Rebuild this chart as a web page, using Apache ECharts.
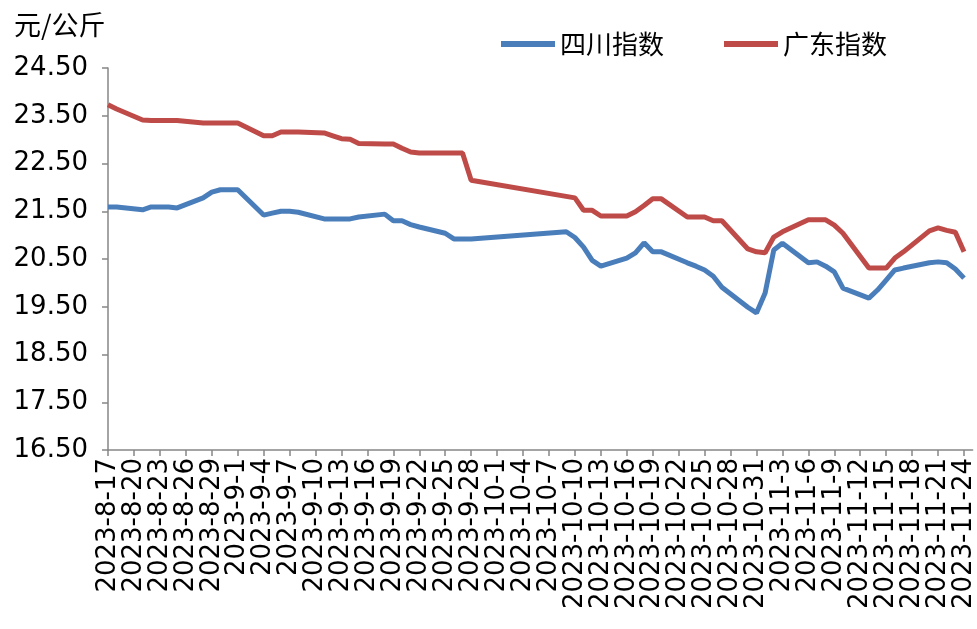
<!DOCTYPE html>
<html>
<head>
<meta charset="utf-8">
<script src="https://cdn.jsdelivr.net/npm/echarts@6/dist/echarts.min.js"></script>
<style>
  html, body { margin: 0; padding: 0; background: #fff; }
  #chart { width: 977px; height: 629px; }
</style>
</head>
<body>
<div id="chart"></div>
<script>
// 四川指数
var scDates = ['8-17', '8-18', '8-21', '8-22', '8-23', '8-24', '8-25', '8-28', '8-29', '8-30', '8-31', '9-1',
  '9-4', '9-5', '9-6', '9-7', '9-8', '9-11', '9-12', '9-13', '9-14', '9-15', '9-18', '9-19', '9-20', '9-21',
  '9-22', '9-25', '9-26', '9-27', '9-28', '10-9', '10-10', '10-11', '10-12', '10-13', '10-16', '10-17',
  '10-18', '10-19', '10-20', '10-23', '10-24', '10-25', '10-26', '10-27', '10-30', '10-31', '11-1', '11-2',
  '11-3', '11-6', '11-7', '11-8', '11-9', '11-10', '11-13', '11-14', '11-15', '11-16', '11-17', '11-20',
  '11-21', '11-22', '11-23', '11-24']
var scValues = [21.59, 21.59, 21.53, 21.59, 21.59, 21.59, 21.57, 21.78, 21.90, 21.95, 21.95, 21.95,
  21.42, 21.46, 21.50, 21.50, 21.48, 21.34, 21.34, 21.34, 21.34, 21.38, 21.44, 21.30, 21.30, 21.22,
  21.17, 21.04, 20.92, 20.92, 20.92, 21.07, 20.95, 20.75, 20.47, 20.35, 20.52, 20.63,
  20.84, 20.65, 20.65, 20.42, 20.35, 20.27, 20.14, 19.91, 19.49, 19.37, 19.79, 20.69,
  20.83, 20.42, 20.44, 20.35, 20.23, 19.89, 19.68, 19.85, 20.06, 20.27, 20.31, 20.42,
  20.44, 20.42, 20.29, 20.10]

// 广东指数
var gdDates = ['8-17', '8-18', '8-21', '8-22', '8-23', '8-24', '8-25', '8-28', '8-29', '8-30', '8-31', '9-1',
  '9-4', '9-5', '9-6', '9-7', '9-8', '9-11', '9-12', '9-13', '9-14', '9-15', '9-18', '9-19', '9-20', '9-21',
  '9-22', '9-25', '9-26', '9-27', '9-28', '10-10', '10-11', '10-12', '10-13', '10-16', '10-17', '10-18',
  '10-19', '10-20', '10-23', '10-24', '10-25', '10-26', '10-27', '10-30', '10-31', '11-1', '11-2', '11-3',
  '11-6', '11-7', '11-8', '11-9', '11-10', '11-13', '11-14', '11-15', '11-16', '11-17', '11-20', '11-21',
  '11-22', '11-23', '11-24']
var gdValues = [23.73, 23.64, 23.41, 23.40, 23.40, 23.40, 23.40, 23.35, 23.35, 23.35, 23.35, 23.35,
  23.08, 23.08, 23.16, 23.16, 23.16, 23.14, 23.08, 23.02, 23.01, 22.92, 22.91, 22.91, 22.82, 22.74,
  22.72, 22.72, 22.72, 22.72, 22.15, 21.78, 21.52, 21.52, 21.40, 21.40, 21.49, 21.62,
  21.76, 21.76, 21.38, 21.38, 21.38, 21.30, 21.30, 20.71, 20.65, 20.63, 20.96, 21.07,
  21.32, 21.32, 21.32, 21.21, 21.04, 20.31, 20.31, 20.31, 20.52, 20.65, 21.09, 21.15,
  21.10, 21.06, 20.65]

var yTicks = [16.5, 17.5, 18.5, 19.5, 20.5, 21.5, 22.5, 23.5, 24.5]

// daily category axis, 2023-8-17 .. 2023-11-25
var categories = []
var d = new Date(2023, 7, 17)
while (d <= new Date(2023, 10, 25)) {
  categories.push('2023-' + (d.getMonth() + 1) + '-' + d.getDate())
  d.setDate(d.getDate() + 1)
}

function toSeries(dates, values) {
  var arr = categories.map(function () { return null })
  dates.forEach(function (md, i) {
    var idx = categories.indexOf('2023-' + md)
    if (idx >= 0) arr[idx] = values[i]
  })
  return arr
}

var FONT = 'DejaVu Sans'
var chart = echarts.init(document.getElementById('chart'))
chart.setOption({
  animation: false,
  title: {
    text: '元/公斤',
    left: 9,
    top: 6,
    textStyle: { fontFamily: 'Noto Sans CJK SC', fontSize: 27, fontWeight: 'normal', color: '#000' }
  },
  legend: {
    left: 496,
    top: 26,
    icon: 'rect',
    itemWidth: 54,
    itemHeight: 6,
    itemGap: 60,
    textStyle: { fontFamily: 'Noto Sans CJK SC', fontSize: 26, color: '#000' },
    data: ['四川指数', '广东指数']
  },
  grid: {
    left: 108,
    right: 1,
    top: 68,
    bottom: 179
  },
  xAxis: {
    type: 'category',
    data: categories,
    boundaryGap: false,
    axisLine: { lineStyle: { color: '#868686', width: 1.5 } },
    axisTick: { interval: 2, length: 6, lineStyle: { color: '#868686', width: 1.5 } },
    axisLabel: {
      interval: 2,
      rotate: 90,
      margin: 8,
      fontFamily: FONT,
      fontSize: 26,
      color: '#000'
    },
    splitLine: { show: false }
  },
  yAxis: {
    type: 'value',
    min: 16.5,
    max: 24.5,
    axisLine: { show: true, lineStyle: { color: '#868686', width: 1.5 } },
    axisTick: { show: true, customValues: yTicks, length: 6, lineStyle: { color: '#868686', width: 1.5 } },
    axisLabel: {
      customValues: yTicks,
      margin: 20,
      fontFamily: FONT,
      fontSize: 26,
      color: '#000',
      formatter: function (v) { return v.toFixed(2) }
    },
    splitLine: { show: false }
  },
  series: [
    {
      name: '四川指数',
      type: 'line',
      data: toSeries(scDates, scValues),
      connectNulls: true,
      symbol: 'none',
      itemStyle: { color: '#4A7EBB' },
      lineStyle: { color: '#4A7EBB', width: 5 }
    },
    {
      name: '广东指数',
      type: 'line',
      data: toSeries(gdDates, gdValues),
      connectNulls: true,
      symbol: 'none',
      itemStyle: { color: '#BE4B48' },
      lineStyle: { color: '#BE4B48', width: 5 }
    }
  ]
})
</script>
</body>
</html>
